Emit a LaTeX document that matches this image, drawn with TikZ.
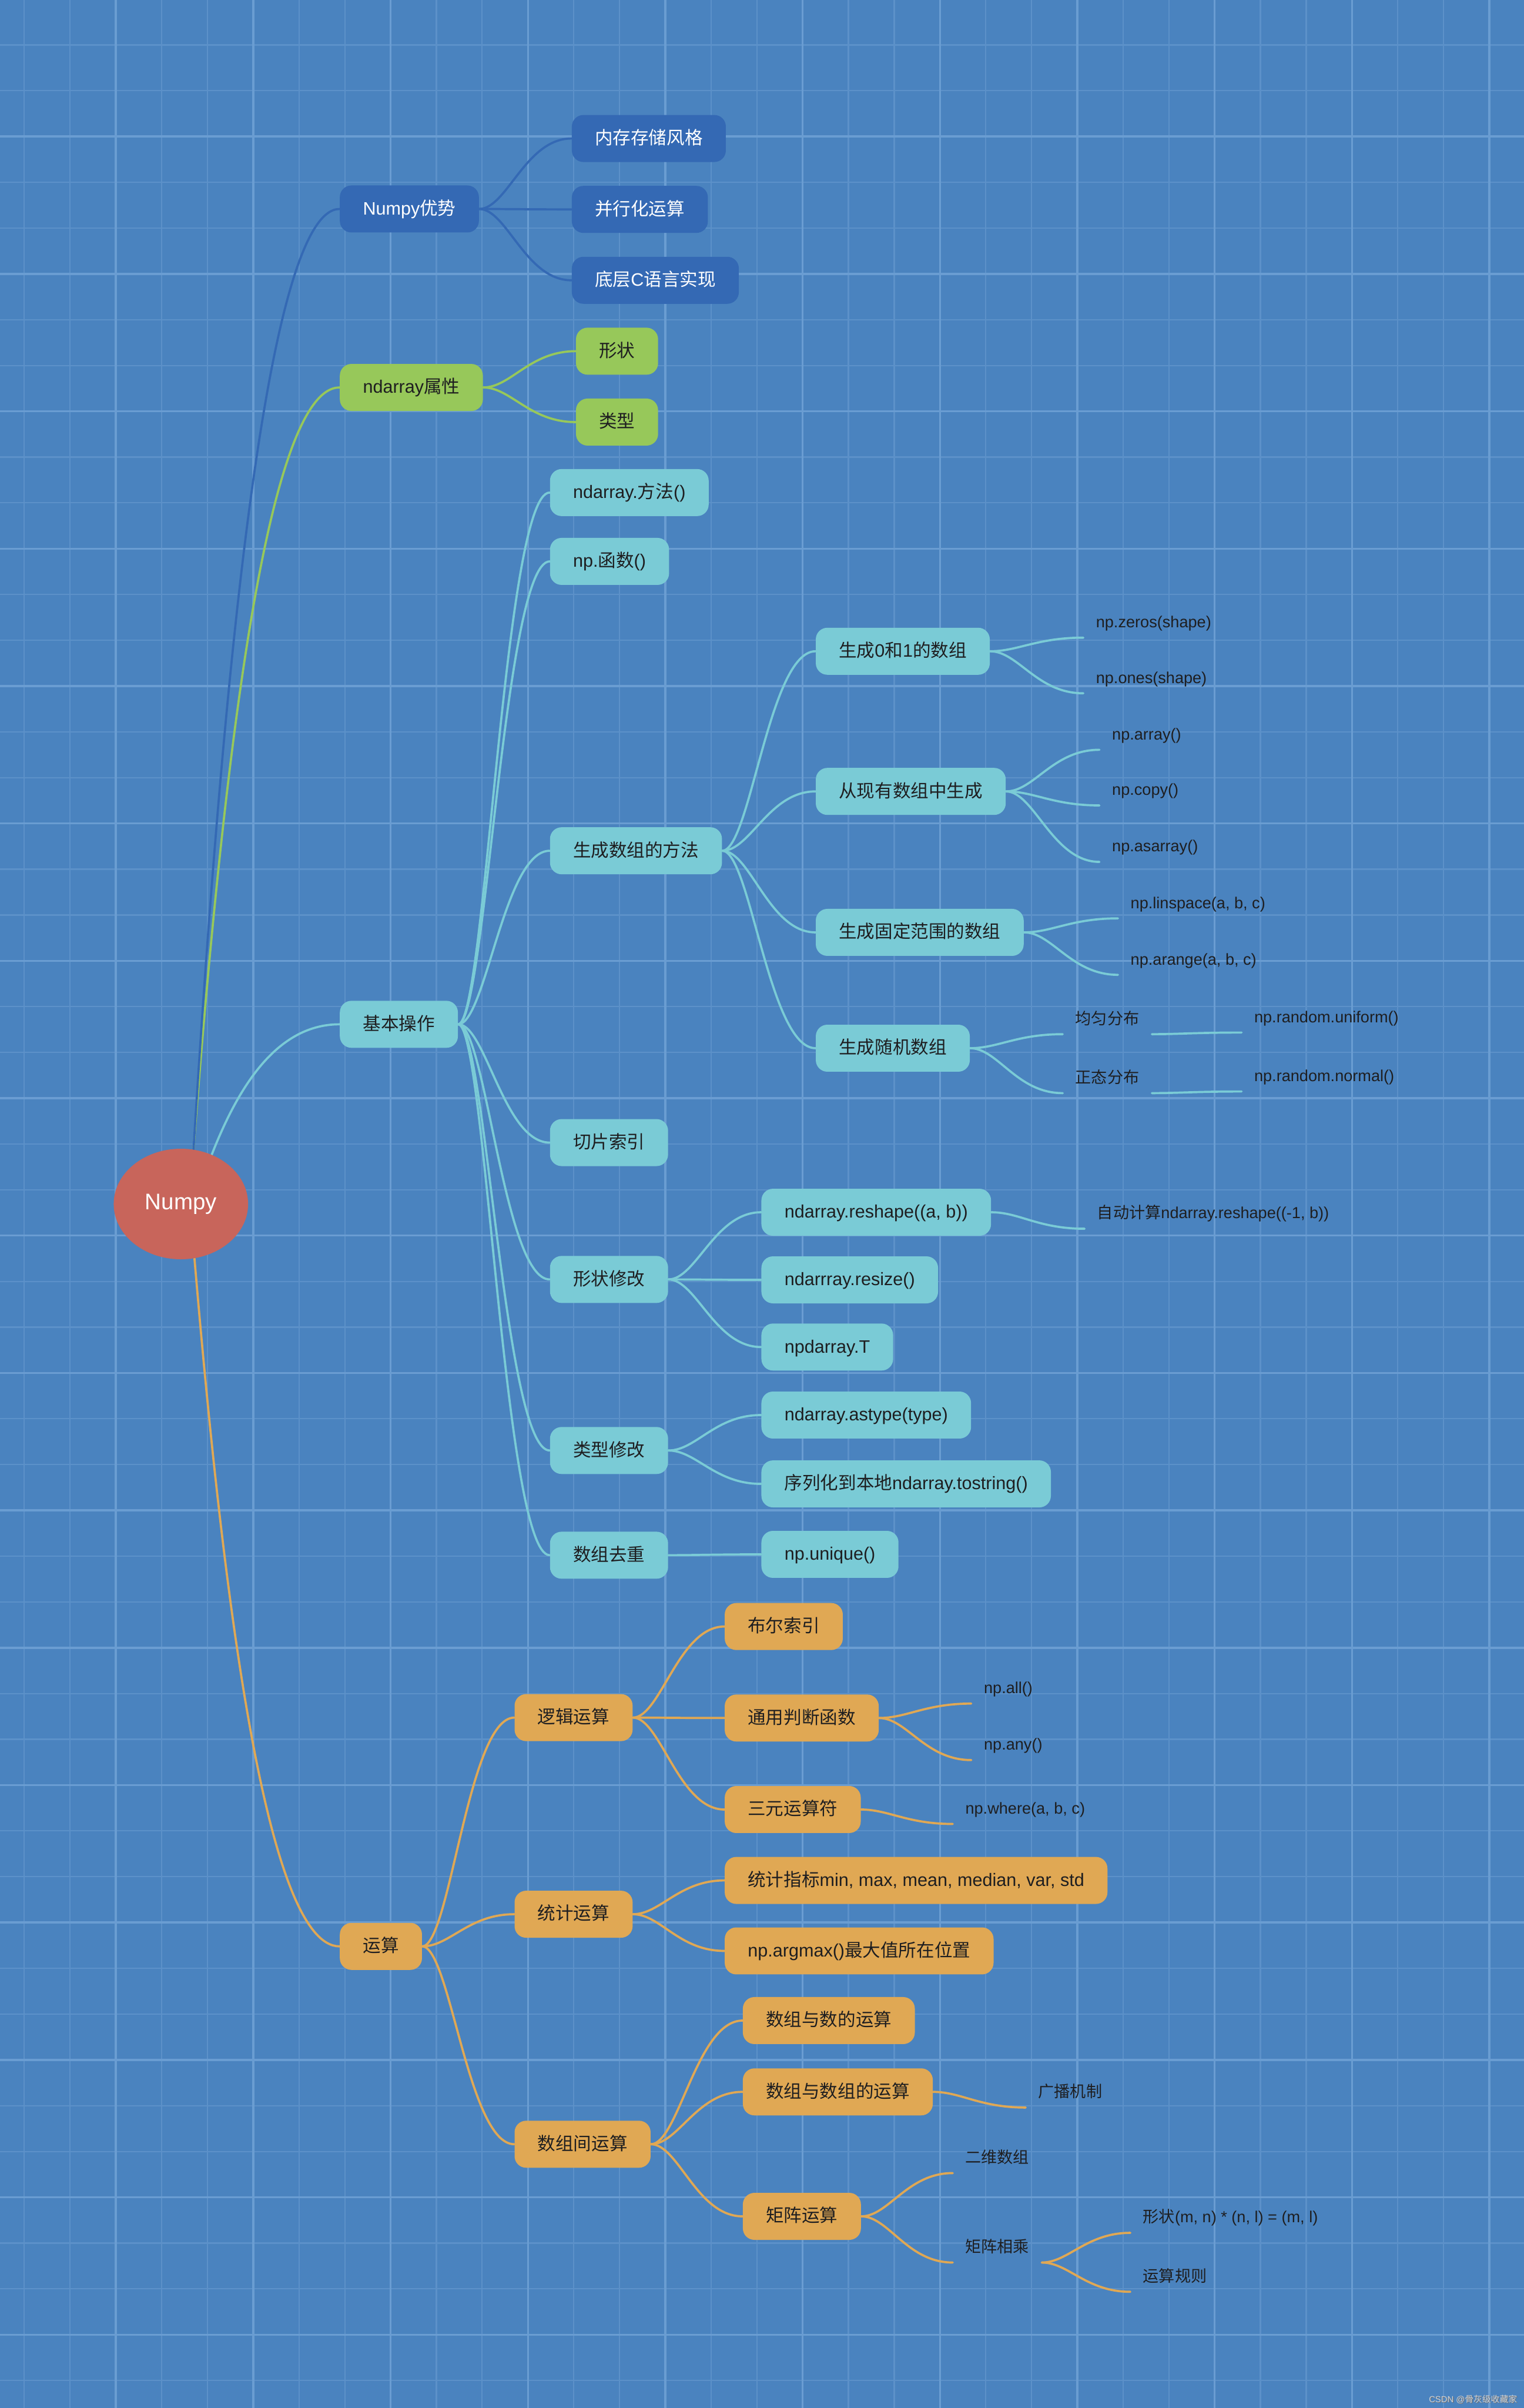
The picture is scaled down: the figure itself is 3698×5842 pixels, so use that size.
\documentclass[tikz,border=0pt]{standalone}
\usepackage{fontspec}
\setmainfont{Liberation Sans}
\newfontfamily\cjk{Noto Sans CJK SC}
\usetikzlibrary{calc,shapes.geometric}
\pgfdeclarelayer{back}\pgfdeclarelayer{links}
\pgfsetlayers{back,links,main}
\definecolor{bgc}{RGB}{74,131,191}
\definecolor{gmin}{RGB}{92,145,201}
\definecolor{gmaj}{RGB}{106,157,210}
\definecolor{cdb}{RGB}{52,105,180}
\definecolor{cgr}{RGB}{151,200,90}
\definecolor{ctl}{RGB}{122,203,214}
\definecolor{cor}{RGB}{224,168,84}
\definecolor{crd}{RGB}{200,101,91}
\definecolor{ink}{RGB}{30,30,32}
\definecolor{wmc}{RGB}{205,210,216}
\newcommand\zh[1]{{\cjk #1}}
\newcommand\sublink[3]{\draw[lk,#1] let \p1=(#2), \p2=(#3) in (\p1) .. controls ({\x1+0.3*(\x2-\x1)},\y1) and ({\x1+0.5*(\x2-\x1)},\y2) .. (\p2);}
\newcommand\rootlink[3]{\draw[lk,#1] let \p1=(#2), \p2=(#3) in (\p1) .. controls ({\x1+0.2*(\x2-\x1)},{\y1+0.5*(\y2-\y1)}) and ({\x1+0.5*(\x2-\x1)},\y2) .. (\p2);}
\tikzset{
 boxbase/.style={anchor=west, rounded corners=0.28cm, minimum height=1.14cm, inner xsep=0.56cm, inner ysep=0pt, font=\fontsize{12.4pt}{14pt}\selectfont, text height=0.9em, text depth=0.1em},
 dbox/.style={boxbase, fill=cdb, text=white},
 gbox/.style={boxbase, fill=cgr, text=ink},
 tbox/.style={boxbase, fill=ctl, text=ink},
 obox/.style={boxbase, fill=cor, text=ink},
 leaf/.style={anchor=south west, inner xsep=0.3cm, inner ysep=0pt, minimum height=0.72cm, text=ink, font=\fontsize{11pt}{13pt}\selectfont, text height=0.85em, text depth=0.15em},
 lk/.style={line width=1.5pt, line cap=round},
}
\begin{document}
\begin{tikzpicture}[x=0.01cm, y=-0.01cm]
\useasboundingbox (0,0) rectangle (3698,5842);
\begin{pgfonlayer}{back}
\fill[bgc] (0,0) rectangle (3698,5842);
\foreach \k in {0,...,32}{\draw[gmin, line width=0.9pt] ({59+111.1*\k},0) -- ({59+111.1*\k},5842);}
\foreach \k in {0,...,51}{\draw[gmin, line width=0.9pt] (0,{109+111.1*\k}) -- (3698,{109+111.1*\k});}
\foreach \k in {2,5,...,32}{\draw[gmaj, line width=1.4pt] ({59+111.1*\k},0) -- ({59+111.1*\k},5842);}
\foreach \k in {2,5,...,50}{\draw[gmaj, line width=1.4pt] (0,{109+111.1*\k}) -- (3698,{109+111.1*\k});}
\end{pgfonlayer}

% root
\node[ellipse, fill=crd, minimum width=3.26cm, minimum height=2.68cm, inner sep=0pt, text=white, font=\fontsize{15.6pt}{18pt}\selectfont] (root) at (439,2921) {Numpy};

% level 1
\node[dbox] (adv) at (824,507) {Numpy\zh{优势}};
\node[gbox] (attr) at (824,940) {ndarray\zh{属性}};
\node[tbox] (basic) at (824,2485) {\zh{基本操作}};
\node[obox] (ops) at (824,4722) {\zh{运算}};

% Numpy advantages
\node[dbox] (mem) at (1387,336) {\zh{内存存储风格}};
\node[dbox] (par) at (1387,508) {\zh{并行化运算}};
\node[dbox] (clang) at (1387,680) {\zh{底层}C\zh{语言实现}};

% ndarray attributes
\node[gbox] (shape) at (1397,852) {\zh{形状}};
\node[gbox] (type) at (1397,1024) {\zh{类型}};

% basic operations
\node[tbox] (meth) at (1334,1195) {ndarray.\zh{方法}()};
\node[tbox] (func) at (1334,1362) {np.\zh{函数}()};
\node[tbox] (gen) at (1334,2064) {\zh{生成数组的方法}};
\node[tbox] (slice) at (1334,2772) {\zh{切片索引}};
\node[tbox] (shp) at (1334,3104) {\zh{形状修改}};
\node[tbox] (typ) at (1334,3519) {\zh{类型修改}};
\node[tbox] (uniq) at (1334,3773) {\zh{数组去重}};

\node[tbox] (g01) at (1979,1580) {\zh{生成}0\zh{和}1\zh{的数组}};
\node[tbox] (gexist) at (1979,1920) {\zh{从现有数组中生成}};
\node[tbox] (grange) at (1979,2262) {\zh{生成固定范围的数组}};
\node[tbox] (grand) at (1979,2543) {\zh{生成随机数组}};

\node[leaf] (z) at (2629,1547) {np.zeros(shape)};
\node[leaf] (o) at (2629,1682) {np.ones(shape)};
\node[leaf] (ar) at (2668,1819) {np.array()};
\node[leaf] (cp) at (2668,1954) {np.copy()};
\node[leaf] (asa) at (2668,2091) {np.asarray()};
\node[leaf] (lin) at (2713,2228) {np.linspace(a, b, c)};
\node[leaf] (arng) at (2713,2365) {np.arange(a, b, c)};
\node[leaf] (uni) at (2579,2509) {\zh{均匀分布}};
\node[leaf] (nor) at (2579,2652) {\zh{正态分布}};
\node[leaf] (runi) at (3013,2505) {np.random.uniform()};
\node[leaf] (rnor) at (3013,2648) {np.random.normal()};

\node[tbox] (rs) at (1847,2941) {ndarray.reshape((a, b))};
\node[tbox] (rsz) at (1847,3105) {ndarrray.resize()};
\node[tbox] (tr) at (1847,3268) {npdarray.T};
\node[leaf] (auto) at (2632,2981) {\zh{自动计算}ndarray.reshape((-1, b))};
\node[tbox] (ast) at (1847,3433) {ndarray.astype(type)};
\node[tbox] (tos) at (1847,3600) {\zh{序列化到本地}ndarray.tostring()};
\node[tbox] (unq) at (1847,3771) {np.unique()};

% operations
\node[obox] (logic) at (1248,4167) {\zh{逻辑运算}};
\node[obox] (stat) at (1248,4644) {\zh{统计运算}};
\node[obox] (arr) at (1248,5202) {\zh{数组间运算}};

\node[obox] (bool) at (1758,3946) {\zh{布尔索引}};
\node[obox] (judge) at (1758,4168) {\zh{通用判断函数}};
\node[obox] (tern) at (1758,4390) {\zh{三元运算符}};
\node[leaf] (all) at (2357,4133) {np.all()};
\node[leaf] (any) at (2357,4270) {np.any()};
\node[leaf] (where) at (2312,4425) {np.where(a, b, c)};

\node[obox] (sidx) at (1758,4562) {\zh{统计指标}min, max, mean, median, var, std};
\node[obox] (amax) at (1758,4733) {np.argmax()\zh{最大值所在位置}};

\node[obox] (ann) at (1802,4902) {\zh{数组与数的运算}};
\node[obox] (aaa) at (1802,5075) {\zh{数组与数组的运算}};
\node[obox] (mat) at (1802,5377) {\zh{矩阵运算}};
\node[leaf] (bc) at (2489,5113) {\zh{广播机制}};
\node[leaf] (two) at (2312,5272) {\zh{二维数组}};
\node[leaf] (mm) at (2312,5489) {\zh{矩阵相乘}};
\node[leaf] (rule1) at (2743,5417) {\zh{形状}(m, n) * (n, l) = (m, l)};
\node[leaf] (rule2) at (2743,5560) {\zh{运算规则}};

% watermark
\node[anchor=south east, inner sep=0pt, text=black!55, font=\fontsize{6pt}{7pt}\selectfont] (wms) at (3684,5834) {CSDN @\zh{骨灰级收藏家}};
\node[anchor=south east, inner sep=0pt, text=wmc, font=\fontsize{6pt}{7pt}\selectfont] (wm) at (3682,5832) {CSDN @\zh{骨灰级收藏家}};

\begin{pgfonlayer}{links}
\rootlink{cgr}{root.77}{attr.west}
\rootlink{cdb}{root.77}{adv.west}
\rootlink{ctl}{root.58}{basic.west}
\rootlink{cor}{root.-76}{ops.west}

\sublink{cdb}{adv.east}{mem.west}
\sublink{cdb}{adv.east}{par.west}
\sublink{cdb}{adv.east}{clang.west}
\sublink{cgr}{attr.east}{shape.west}
\sublink{cgr}{attr.east}{type.west}

\foreach \c in {meth,func,gen,slice,shp,typ,uniq}{\sublink{ctl}{basic.east}{\c.west}}
\foreach \c in {g01,gexist,grange,grand}{\sublink{ctl}{gen.east}{\c.west}}
\sublink{ctl}{g01.east}{z.south west}
\sublink{ctl}{g01.east}{o.south west}
\foreach \c in {ar,cp,asa}{\sublink{ctl}{gexist.east}{\c.south west}}
\sublink{ctl}{grange.east}{lin.south west}
\sublink{ctl}{grange.east}{arng.south west}
\sublink{ctl}{grand.east}{uni.south west}
\sublink{ctl}{grand.east}{nor.south west}
\sublink{ctl}{uni.south east}{runi.south west}
\sublink{ctl}{nor.south east}{rnor.south west}
\foreach \c in {rs,rsz,tr}{\sublink{ctl}{shp.east}{\c.west}}
\sublink{ctl}{rs.east}{auto.south west}
\sublink{ctl}{typ.east}{ast.west}
\sublink{ctl}{typ.east}{tos.west}
\sublink{ctl}{uniq.east}{unq.west}

\foreach \c in {logic,stat,arr}{\sublink{cor}{ops.east}{\c.west}}
\foreach \c in {bool,judge,tern}{\sublink{cor}{logic.east}{\c.west}}
\sublink{cor}{judge.east}{all.south west}
\sublink{cor}{judge.east}{any.south west}
\sublink{cor}{tern.east}{where.south west}
\sublink{cor}{stat.east}{sidx.west}
\sublink{cor}{stat.east}{amax.west}
\foreach \c in {ann,aaa,mat}{\sublink{cor}{arr.east}{\c.west}}
\sublink{cor}{aaa.east}{bc.south west}
\sublink{cor}{mat.east}{two.south west}
\sublink{cor}{mat.east}{mm.south west}
\sublink{cor}{mm.south east}{rule1.south west}
\sublink{cor}{mm.south east}{rule2.south west}
\end{pgfonlayer}
\end{tikzpicture}
\end{document}
